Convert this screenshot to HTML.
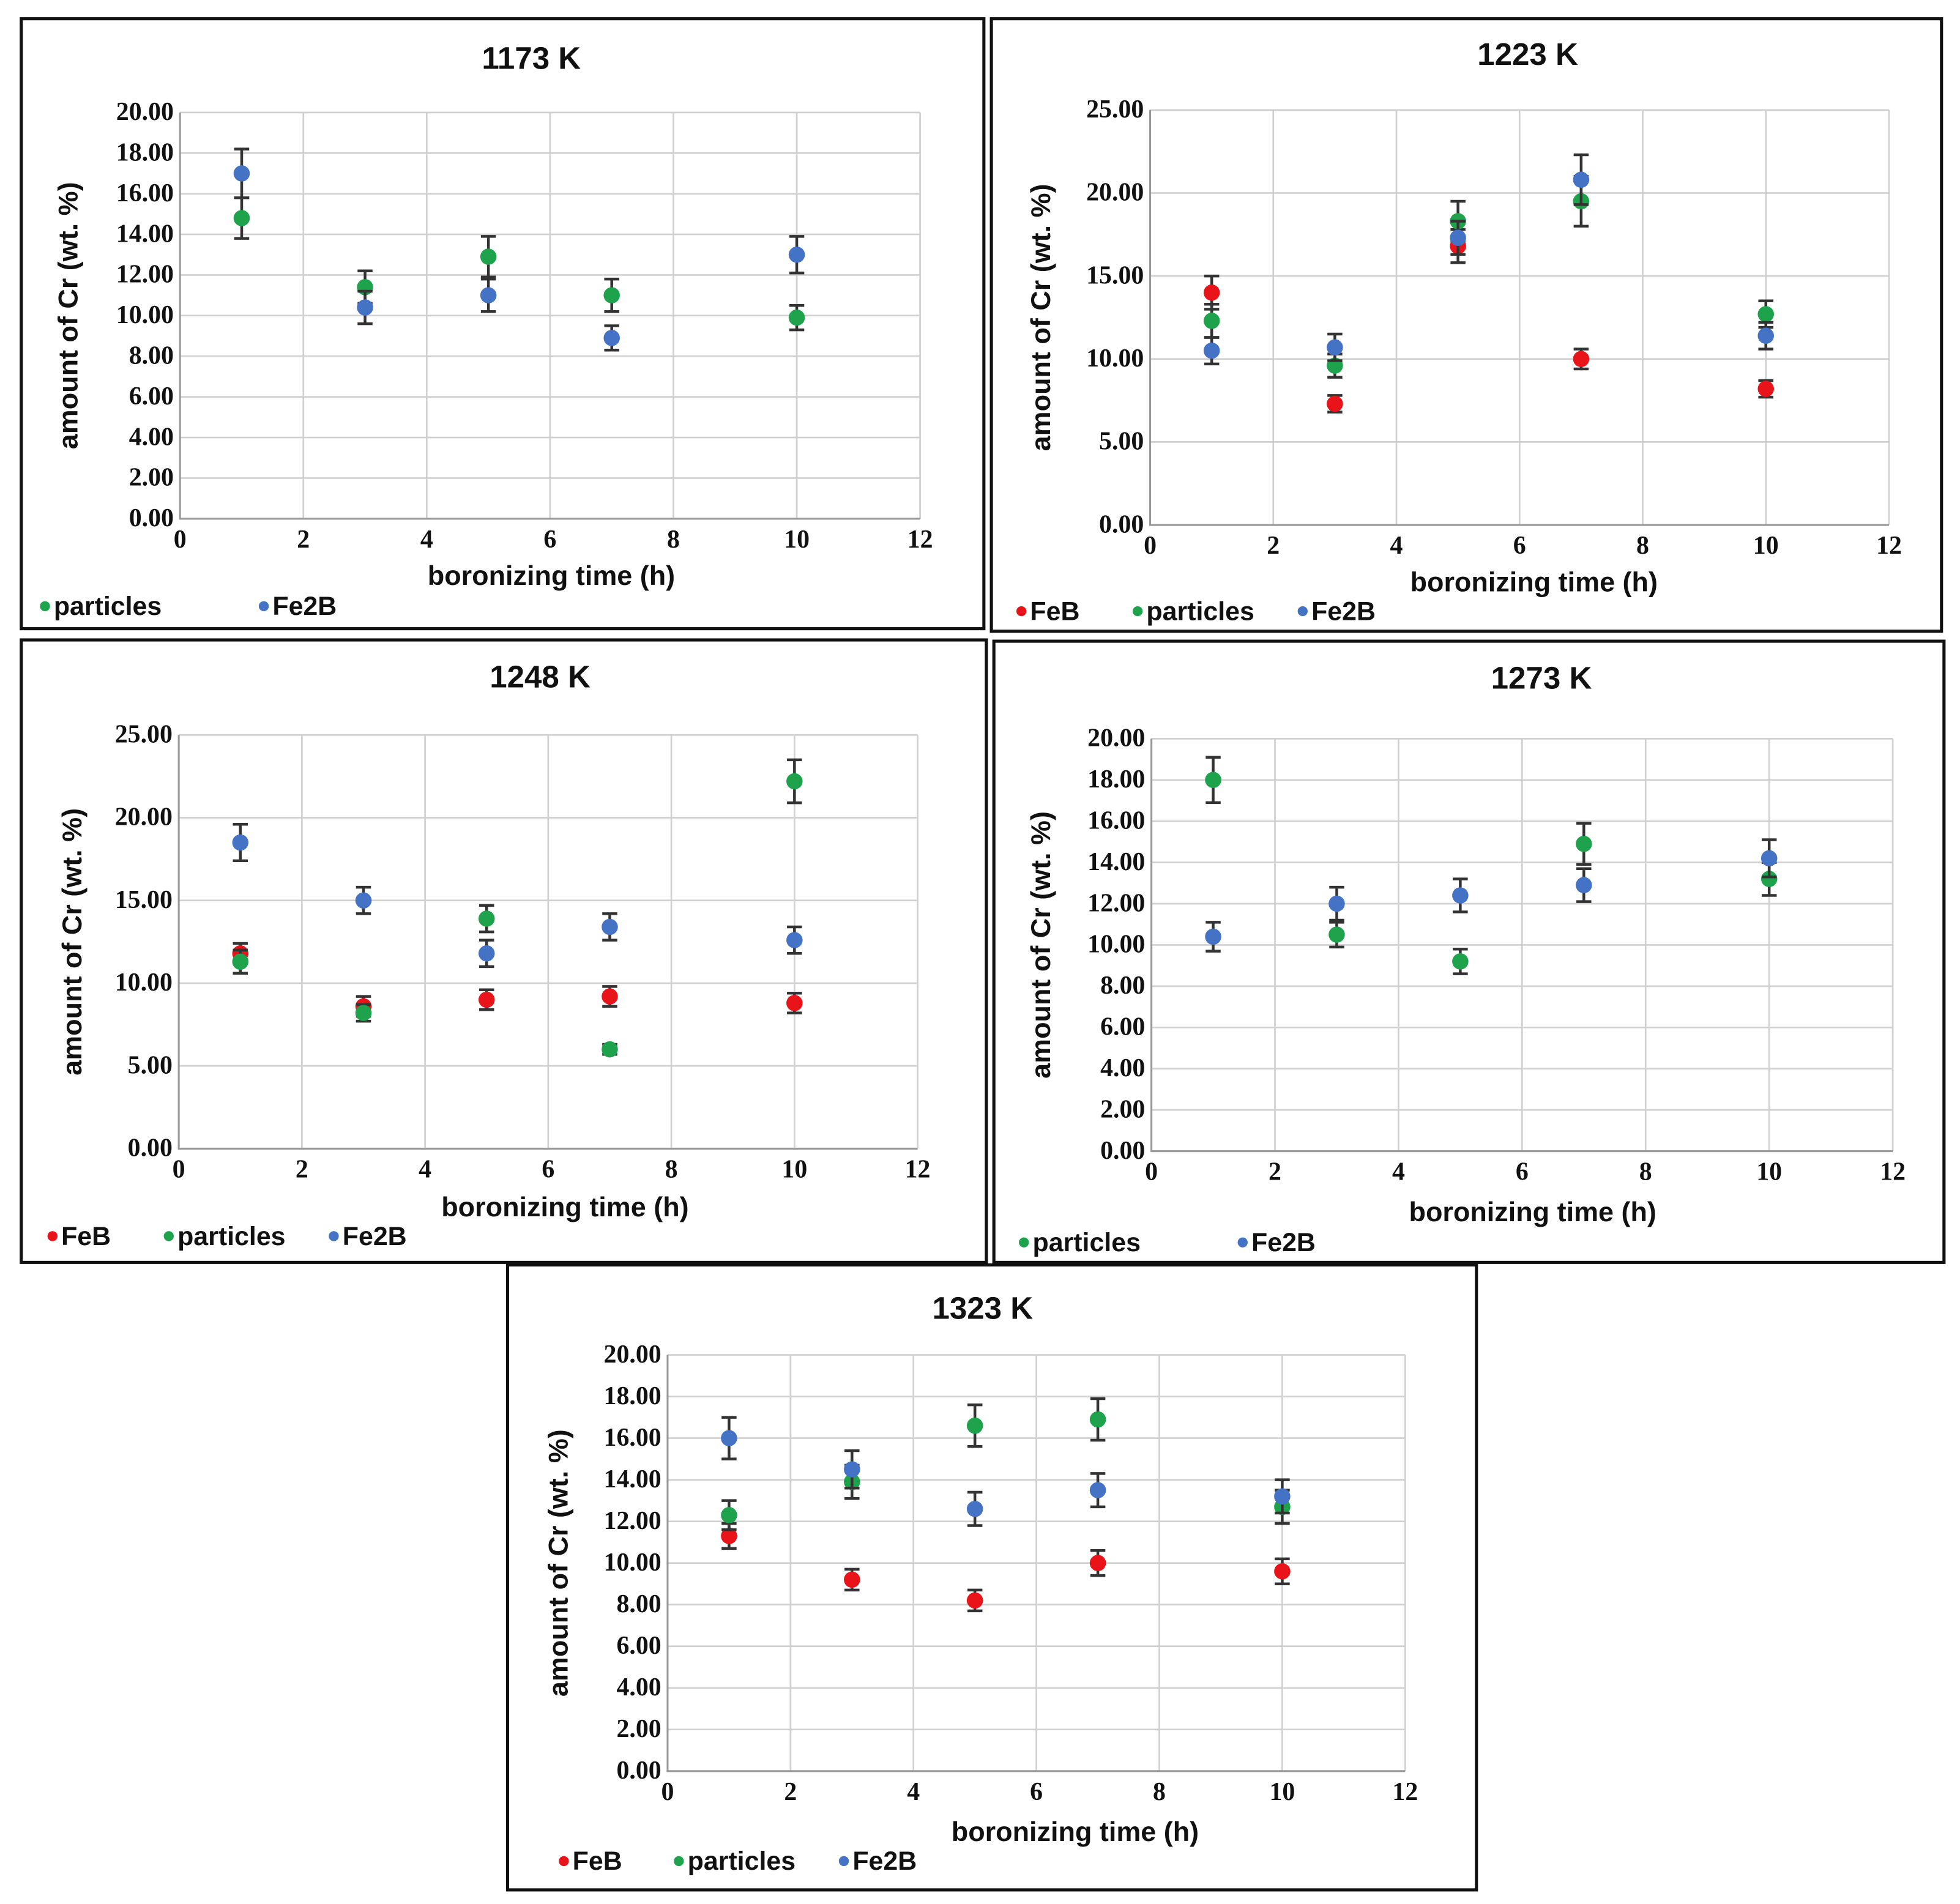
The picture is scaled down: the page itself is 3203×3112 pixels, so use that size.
<!DOCTYPE html>
<html><head><meta charset="utf-8"><style>
html,body{margin:0;padding:0;background:#fff;}
svg{display:block;}
.tick{font-family:"Liberation Serif",serif;font-weight:bold;font-size:20.5px;fill:#111;}
.title{font-family:"Liberation Sans",sans-serif;font-weight:bold;font-size:25px;fill:#111;}
.ax{font-family:"Liberation Sans",sans-serif;font-weight:bold;font-size:22px;fill:#111;}
.leg{font-family:"Liberation Sans",sans-serif;font-weight:bold;font-size:21px;fill:#111;}
</style></head>
<body>
<svg id="fig" width="3203" height="3112" viewBox="0 0 1567.8 1523.3" preserveAspectRatio="none" xmlns="http://www.w3.org/2000/svg"></svg>
<script>
const times = [1, 3, 5, 7, 10];
const xTicks = [0, 2, 4, 6, 8, 10, 12];
const yTicks20 = [0, 2, 4, 6, 8, 10, 12, 14, 16, 18, 20];
const yTicks25 = [0, 5, 10, 15, 20, 25];
const titles = ["1173 K", "1223 K", "1248 K", "1273 K", "1323 K"];
// panel 1173 K
const p1Particles = [14.8, 11.4, 12.9, 11.0, 9.9];
const p1ParticlesErr = [1.0, 0.8, 1.0, 0.8, 0.6];
const p1Fe2B = [17.0, 10.4, 11.0, 8.9, 13.0];
const p1Fe2BErr = [1.2, 0.8, 0.8, 0.6, 0.9];
// panel 1223 K
const p2FeB = [14.0, 7.3, 16.8, 10.0, 8.2];
const p2FeBErr = [1.0, 0.5, 1.0, 0.6, 0.5];
const p2Particles = [12.3, 9.6, 18.3, 19.5, 12.7];
const p2ParticlesErr = [1.0, 0.7, 1.2, 1.5, 0.8];
const p2Fe2B = [10.5, 10.7, 17.3, 20.8, 11.4];
const p2Fe2BErr = [0.8, 0.8, 1.0, 1.5, 0.8];
// panel 1248 K
const p3FeB = [11.8, 8.6, 9.0, 9.2, 8.8];
const p3FeBErr = [0.6, 0.6, 0.6, 0.6, 0.6];
const p3Particles = [11.3, 8.2, 13.9, 6.0, 22.2];
const p3ParticlesErr = [0.7, 0.5, 0.8, 0.3, 1.3];
const p3Fe2B = [18.5, 15.0, 11.8, 13.4, 12.6];
const p3Fe2BErr = [1.1, 0.8, 0.8, 0.8, 0.8];
// panel 1273 K
const p4Particles = [18.0, 10.5, 9.2, 14.9, 13.2];
const p4ParticlesErr = [1.1, 0.6, 0.6, 1.0, 0.8];
const p4Fe2B = [10.4, 12.0, 12.4, 12.9, 14.2];
const p4Fe2BErr = [0.7, 0.8, 0.8, 0.8, 0.9];
// panel 1323 K
const p5FeB = [11.3, 9.2, 8.2, 10.0, 9.6];
const p5FeBErr = [0.6, 0.5, 0.5, 0.6, 0.6];
const p5Particles = [12.3, 13.9, 16.6, 16.9, 12.7];
const p5ParticlesErr = [0.7, 0.8, 1.0, 1.0, 0.8];
const p5Fe2B = [16.0, 14.5, 12.6, 13.5, 13.2];
const p5Fe2BErr = [1.0, 0.9, 0.8, 0.8, 0.8];

const COL = {FeB: "#e8141a", particles: "#1ea34c", Fe2B: "#4472c4"};
const NS = "http://www.w3.org/2000/svg";
const svg = document.getElementById("fig");
function mk(tag, attrs, parent) {
  const e = document.createElementNS(NS, tag);
  for (const k in attrs) e.setAttribute(k, attrs[k]);
  (parent || svg).appendChild(e);
  return e;
}
const panels = [
  {box:[17,15,787,503], plot:[144,90,736,415], ticks:yTicks20, ymax:20, ytx:55, title:[425,47], xt:[441,461],
   legend:[["particles",32,484],["Fe2B",207,484]],
   series:[["particles",p1Particles,p1ParticlesErr],["Fe2B",p1Fe2B,p1Fe2BErr]]},
  {box:[793,15,1553,505], plot:[920,88,1511,420], ticks:yTicks25, ymax:25, ytx:833, title:[1222,44], xt:[1227,466],
   legend:[["FeB",813,488],["particles",906,488],["Fe2B",1038,488]],
   series:[["FeB",p2FeB,p2FeBErr],["particles",p2Particles,p2ParticlesErr],["Fe2B",p2Fe2B,p2Fe2BErr]]},
  {box:[17,512,789,1010], plot:[143,588,734,919], ticks:yTicks25, ymax:25, ytx:58, title:[432,542], xt:[452,966],
   legend:[["FeB",38,988],["particles",131,988],["Fe2B",263,988]],
   series:[["FeB",p3FeB,p3FeBErr],["particles",p3Particles,p3ParticlesErr],["Fe2B",p3Fe2B,p3Fe2BErr]]},
  {box:[795,513,1555,1010], plot:[921,591,1514,921], ticks:yTicks20, ymax:20, ytx:833, title:[1233,543], xt:[1226,970],
   legend:[["particles",815,993],["Fe2B",990,993]],
   series:[["particles",p4Particles,p4ParticlesErr],["Fe2B",p4Fe2B,p4Fe2BErr]]},
  {box:[406,1012,1181,1512], plot:[534,1084,1124,1417], ticks:yTicks20, ymax:20, ytx:447, title:[786,1047], xt:[860,1466],
   legend:[["FeB",447,1488],["particles",539,1488],["Fe2B",671,1488]],
   series:[["FeB",p5FeB,p5FeBErr],["particles",p5Particles,p5ParticlesErr],["Fe2B",p5Fe2B,p5Fe2BErr]]}
];

panels.forEach((p, i) => {
  const g = mk("g", {});
  
  
  const [bx0, by0, bx1, by1] = p.box;
  const border = mk("rect", {x:bx0, y:by0, width:bx1-bx0, height:by1-by0, fill:"#fff", stroke:"#111", "stroke-width":2.5}, g);
  
  
  const [px0, py0, px1, py1] = p.plot;
  const sx = v => px0 + (v / 12) * (px1 - px0);
  const sy = v => py1 - (v / p.ymax) * (py1 - py0);

  xTicks.forEach(t => {
    const l = mk("line", {x1:sx(t), x2:sx(t), y1:py0, y2:py1, stroke:"#d0d0d0", "stroke-width":1.3}, g);
    
    
    const tx = mk("text", {x:sx(t), y:py1 + 23, "text-anchor":"middle", class:"tick"}, g);
    tx.textContent = t;
    
    
  });
  p.ticks.forEach(t => {
    const l = mk("line", {x1:px0, x2:px1, y1:sy(t), y2:sy(t), stroke:"#d0d0d0", "stroke-width":1.3}, g);
    
    
    const tx = mk("text", {x:px0 - 5, y:sy(t) + 6, "text-anchor":"end", class:"tick"}, g);
    tx.textContent = t.toFixed(2);
    
    
  });
  const ax = mk("path", {d:`M${px0},${py0} L${px0},${py1} L${px1},${py1}`, fill:"none", stroke:"#999", "stroke-width":1.5}, g);
  
  

  const ti = mk("text", {x:p.title[0], y:p.title[1] + 8, "text-anchor":"middle", class:"title"}, g);
  ti.textContent = titles[i];
  
  
  const xt = mk("text", {x:p.xt[0], y:p.xt[1] + 7, "text-anchor":"middle", class:"ax"}, g);
  xt.textContent = "boronizing time (h)";
  
  
  const cy = (py0 + py1) / 2;
  const yt = mk("text", {x:0, y:0, "text-anchor":"middle", class:"ax", transform:`translate(${p.ytx + 7},${cy}) rotate(-90)`}, g);
  yt.textContent = "amount of Cr (wt. %)";
  
  

  p.series.forEach(([name, vals, errs]) => {
    vals.forEach((v, k) => {
      const x = sx(times[k]);
      const e = mk("path", {d:`M${x},${sy(v+errs[k])} L${x},${sy(v-errs[k])} M${x-6},${sy(v+errs[k])} L${x+6},${sy(v+errs[k])} M${x-6},${sy(v-errs[k])} L${x+6},${sy(v-errs[k])}`, stroke:"#333", "stroke-width":2.2, fill:"none"}, g);
      
      
      const c = mk("circle", {cx:x, cy:sy(v), r:6.5, fill:COL[name]}, g);
      
      
    });
  });

  p.legend.forEach(([name, lx, ly]) => {
    const c = mk("circle", {cx:lx + 4, cy:ly + 1, r:4, fill:COL[name]}, g);
    
    
    const t = mk("text", {x:lx + 11, y:ly + 8, class:"leg"}, g);
    t.textContent = name;
    
    
  });
});
</script>
</body></html>
